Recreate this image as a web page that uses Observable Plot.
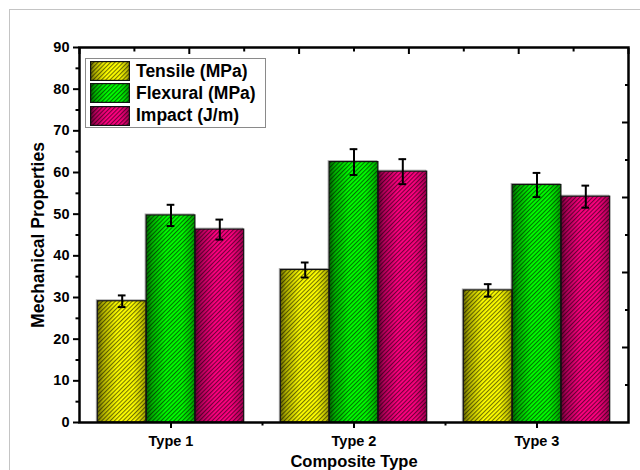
<!DOCTYPE html>
<html>
<head>
<meta charset="utf-8">
<script src="https://cdn.jsdelivr.net/npm/d3@7"></script>
<script src="https://cdn.jsdelivr.net/npm/@observablehq/plot@0.6"></script>
<style>
  html, body { margin: 0; padding: 0; background: white; }
  #wrap { position: relative; width: 640px; height: 470px; overflow: hidden; font-family: "Liberation Sans", Arial, sans-serif; }
  #pageframe { position: absolute; left: 9px; top: 9px; width: 700px; height: 500px; border-left: 1px solid #c4c4c4; border-top: 1px solid #c4c4c4; }
  #chart { position: absolute; left: 0; top: 0; }
  #legend { position: absolute; left: 85px; top: 58px; width: 179px; height: 68px; border: 1px solid #8a8a8a; background: white; }
  .lrow { position: absolute; left: 4px; height: 20px; display: flex; align-items: center; }
  .lrow span { margin-left: 6px; font-weight: bold; font-size: 17.5px; color: #000; white-space: nowrap; }
  svg text { font-weight: bold; }
</style>
</head>
<body>
<div id="wrap">
  <div id="pageframe"></div>
  <svg id="defs" width="0" height="0" style="position:absolute"></svg>
  <div id="chart"></div>
  <div id="legend"></div>
</div>
<script>
const categories = ["Type 1", "Type 2", "Type 3"];
const seriesNames = ["Tensile (MPa)", "Flexural (MPa)", "Impact (J/m)"];
const tensile = [29.1, 36.6, 31.7];
const flexural = [49.7, 62.5, 57.0];
const impact = [46.3, 60.2, 54.2];
const tensileErr = [1.4, 1.8, 1.5];
const flexuralErr = [2.55, 3.1, 2.9];
const impactErr = [2.4, 3.0, 2.65];
const seriesColors = ["#ffff00", "#00ff00", "#ff0080"];
const yTicks = [0, 10, 20, 30, 40, 50, 60, 70, 80, 90];
const yLabel = "Mechanical Properties";
const xLabel = "Composite Type";

const values = [tensile, flexural, impact];
const errors = [tensileErr, flexuralErr, impactErr];
const groupW = 0.8;
const barW = groupW / seriesNames.length;
const capW = 0.021;

const rows = categories.flatMap((c, i) => seriesNames.map((s, j) => {
  const x1 = i + 0.5 - groupW / 2 + j * barW;
  return {cat: c, series: s, i, j, value: values[j][i], err: errors[j][i], x1, x2: x1 + barW, xc: x1 + barW / 2};
}));

// defs: gradients + hatch
const defs = d3.select("#defs").append("defs");
seriesColors.forEach((c, j) => {
  const g = defs.append("linearGradient").attr("id", "grad" + j).attr("x1", 0).attr("x2", 1).attr("y1", 0).attr("y2", 0);
  const base = d3.color(c);
  [[0, base.darker(2.4)], [0.12, base.darker(1.0)], [0.4, base], [0.74, base], [0.9, base.darker(0.6)], [1, base.darker(1.4)]]
    .forEach(([o, col]) => g.append("stop").attr("offset", o).attr("stop-color", col.formatHex()));
});
const pat = defs.append("pattern").attr("id", "hatch").attr("patternUnits", "userSpaceOnUse")
  .attr("width", 3).attr("height", 3).attr("patternTransform", "rotate(45)");
pat.append("rect").attr("x", 0).attr("y", 0).attr("width", 1.1).attr("height", 3).attr("fill", "#000").attr("fill-opacity", 0.55);

const xMajorBottom = categories.map((c, i) => i + 0.5);
const xMinorBottom = d3.range(1, categories.length);
const xTopMajor = d3.range(0, 3.01, 0.6);
const xTopMinor = d3.range(0.3, 3, 0.6);
const yMinorLeft = d3.range(5, 90, 10);
const yRightMajor = [18, 36, 54, 72];
const yRightMinor = [9, 27, 45, 63, 81];

const marks = [];
// shadow
marks.push(Plot.rectY(rows, {x1: "x1", x2: "x2", y1: 0, y2: "value", fill: "none", stroke: "#b0b0b0", strokeWidth: 1, dx: -1, dy: -1}));
seriesColors.forEach((c, j) => {
  marks.push(Plot.rectY(rows.filter(r => r.j === j), {x1: "x1", x2: "x2", y1: 0, y2: "value", fill: `url(#grad${j})`}));
});
marks.push(Plot.rectY(rows, {x1: "x1", x2: "x2", y1: 0, y2: "value", fill: "url(#hatch)", stroke: "#111", strokeWidth: 1.2}));
// error bars
marks.push(Plot.ruleX(rows, {x: "xc", y1: d => d.value - d.err, y2: d => d.value + d.err, stroke: "#000", strokeWidth: 2}));
marks.push(Plot.ruleY(rows, {y: d => d.value + d.err, x1: d => d.xc - capW, x2: d => d.xc + capW, stroke: "#000", strokeWidth: 2}));
marks.push(Plot.ruleY(rows, {y: d => d.value - d.err, x1: d => d.xc - capW, x2: d => d.xc + capW, stroke: "#000", strokeWidth: 2}));
// axes
marks.push(Plot.axisY({ticks: yTicks, tickSize: 6, tickPadding: 4, strokeWidth: 2, fontSize: 14.5, fontWeight: "bold", label: null}));
marks.push(Plot.axisY({ticks: yMinorLeft, tickSize: 3.5, strokeWidth: 2, text: null, label: null}));
marks.push(Plot.axisY({anchor: "right", ticks: yRightMajor, tickSize: 7, dx: -7, strokeWidth: 2, text: null, label: null}));
marks.push(Plot.axisY({anchor: "right", ticks: yRightMinor, tickSize: 4, dx: -4, strokeWidth: 2, text: null, label: null}));
marks.push(Plot.axisX({ticks: xMajorBottom, tickFormat: v => categories[Math.floor(v)], tickSize: 6, tickPadding: 7, strokeWidth: 2, fontSize: 14.5, fontWeight: "bold", label: null}));
marks.push(Plot.axisX({ticks: xMinorBottom, tickSize: 3.5, strokeWidth: 2, text: null, label: null}));
marks.push(Plot.axisX({anchor: "top", ticks: xTopMajor, tickSize: 6, dy: 6, strokeWidth: 2, text: null, label: null}));
marks.push(Plot.axisX({anchor: "top", ticks: xTopMinor, tickSize: 3.5, dy: 3.5, strokeWidth: 2, text: null, label: null}));
marks.push(Plot.frame({stroke: "#000", strokeWidth: 2.5}));
// titles
marks.push(Plot.text([yLabel], {frameAnchor: "left", rotate: -90, dx: -41, text: d => d, fontSize: 17.5, fontWeight: "bold", lineAnchor: "middle", textAnchor: "middle", fill: "#000"}));
marks.push(Plot.text([xLabel], {frameAnchor: "bottom", dy: 39, text: d => d, fontSize: 16.5, fontWeight: "bold", lineAnchor: "middle", textAnchor: "middle", fill: "#000"}));

const chart = Plot.plot({
  width: 640,
  height: 470,
  marginLeft: 79,
  marginRight: 12,
  marginTop: 47,
  marginBottom: 48,
  x: {domain: [0, categories.length]},
  y: {domain: [0, 90]},
  style: {background: "transparent", fontFamily: "'Liberation Sans', Arial, sans-serif", color: "#000", overflow: "visible"},
  marks
});
document.getElementById("chart").appendChild(chart);

// legend
const legend = d3.select("#legend");
seriesNames.forEach((s, j) => {
  const row = legend.append("div").attr("class", "lrow").style("top", (2 + j * 22.3) + "px");
  const sw = row.append("svg").attr("width", 40).attr("height", 20);
  sw.append("rect").attr("x", 0.6).attr("y", 0.6).attr("width", 38.8).attr("height", 18.8).attr("fill", `url(#grad${j})`);
  sw.append("rect").attr("x", 0.6).attr("y", 0.6).attr("width", 38.8).attr("height", 18.8).attr("fill", "url(#hatch)").attr("stroke", "#111").attr("stroke-width", 1.2);
  row.append("span").text(s);
});
</script>
</body>
</html>
